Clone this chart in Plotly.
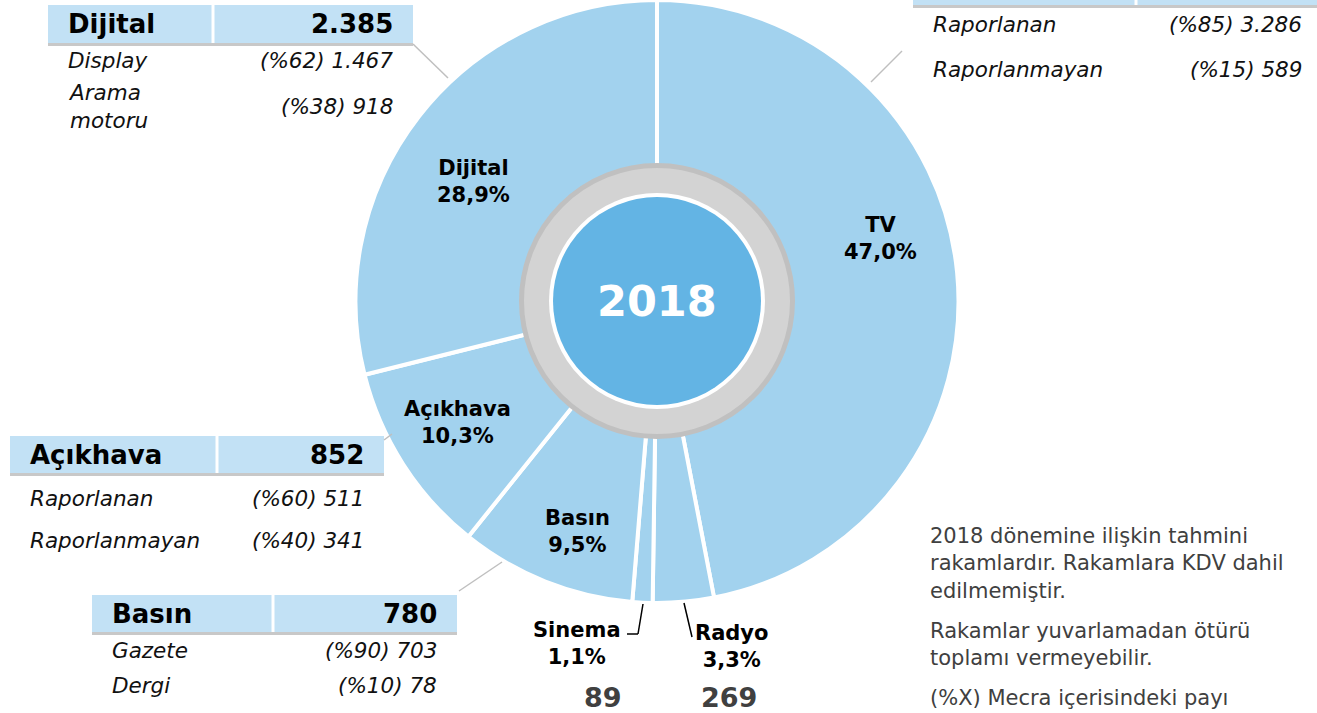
import plotly.graph_objects as go

# ---------------- data ----------------
categories = ["TV", "Radyo", "Sinema", "Basın", "Açıkhava", "Dijital"]
values = [3875, 269, 89, 780, 852, 2385]
year_label = "2018"

tv_title, tv_total = "Televizyon", 3875
tv_sub_names = ["Raporlanan", "Raporlanmayan"]
tv_sub_pct = [85, 15]
tv_sub_vals = [3286, 589]

dij_title, dij_total = "Dijital", 2385
dij_sub_names = ["Display", "Arama<br>motoru"]
dij_sub_pct = [62, 38]
dij_sub_vals = [1467, 918]

acik_title, acik_total = "Açıkhava", 852
acik_sub_names = ["Raporlanan", "Raporlanmayan"]
acik_sub_pct = [60, 40]
acik_sub_vals = [511, 341]

basin_title, basin_total = "Basın", 780
basin_sub_names = ["Gazete", "Dergi"]
basin_sub_pct = [90, 10]
basin_sub_vals = [703, 78]

notes = [
    "2018 dönemine ilişkin tahmini<br>rakamlardır. Rakamlara KDV dahil<br>edilmemiştir.",
    "Rakamlar yuvarlamadan ötürü<br>toplamı vermeyebilir.",
    "(%X) Mecra içerisindeki payı",
]

# ---------------- helpers ----------------
W, H = 1317, 713
FONT = "DejaVu Sans"
SLICE = "#a2d2ee"
HEAD = "#c2e1f5"
CENTER_BLUE = "#63b4e4"
ROW_SIZE = 21.5
HEAD_SIZE = 26


def X(px):
    return px / W


def Y(py):
    return 1 - py / H


def fmt(v):
    return format(v, ",").replace(",", ".")


total = sum(values)
pcts = [f"{v / total * 100:.1f}".replace(".", ",") + "%" for v in values]

cx, cy, R = 657, 301, 302

fig = go.Figure()
fig.add_trace(go.Pie(
    labels=categories, values=values, sort=False, direction="clockwise",
    rotation=0, hole=0.4, textinfo="none", hoverinfo="label+percent",
    marker=dict(colors=[SLICE] * len(values), line=dict(color="white", width=4)),
    domain=dict(x=[X(cx - R), X(cx + R)], y=[max(0, Y(cy + R)), min(1, Y(cy - R))]),
    showlegend=False,
))

shapes = []
annotations = []


def circle(r, fill, line_color=None, line_width=0):
    shapes.append(dict(type="circle", xref="paper", yref="paper", layer="above",
                       x0=X(cx - r), x1=X(cx + r), y0=Y(cy + r), y1=Y(cy - r),
                       fillcolor=fill,
                       line=dict(color=line_color or fill, width=line_width)))


circle(135.5, "#d3d3d3", "#c0c0c0", 5)
circle(108, "white")
circle(104, CENTER_BLUE)

annotations.append(dict(x=X(cx), y=Y(cy), xref="paper", yref="paper", text=f"<b>{year_label}</b>",
                        showarrow=False, font=dict(family=FONT, size=43, color="white"),
                        xanchor="center", yanchor="middle"))


def line(x0, y0, x1, y1, color="#bfbfbf", width=1.5):
    shapes.append(dict(type="line", xref="paper", yref="paper", layer="above",
                       x0=X(x0), y0=Y(y0), x1=X(x1), y1=Y(y1),
                       line=dict(color=color, width=width)))


def text(px, py, s, size=ROW_SIZE, anchor="left", color="#111111", bold=False, italic=False):
    if bold:
        s = f"<b>{s}</b>"
    if italic:
        s = f"<i>{s}</i>"
    annotations.append(dict(x=X(px), y=Y(py), xref="paper", yref="paper", text=s,
                            showarrow=False, xanchor=anchor, yanchor="middle",
                            align=anchor if anchor != "center" else "center",
                            font=dict(family=FONT, size=size, color=color)))


def table(x0, xdiv, x1, ytop, ybot, title, tot, names, pct, vals, row_y,
          lpad=18, rpad=18, show_head=True):
    shapes.append(dict(type="rect", xref="paper", yref="paper", layer="above",
                       x0=X(x0), x1=X(x1), y0=Y(ybot), y1=Y(ytop),
                       fillcolor=HEAD, line=dict(width=0)))
    line(xdiv, ytop, xdiv, ybot, color="white", width=3)
    line(x0, ybot + 1.5, x1, ybot + 1.5, color="#c8c8c8", width=3)
    ym = (ytop + ybot) / 2
    if show_head:
        text(x0 + lpad, ym, title, size=HEAD_SIZE, bold=True, color="black")
        text(x1 - rpad, ym, fmt(tot), size=HEAD_SIZE, bold=True, color="black", anchor="right")
    for n, p, v, ry in zip(names, pct, vals, row_y):
        text(x0 + lpad, ry, n, italic=True)
        text(x1 - rpad, ry, f"(%{p}) {fmt(v)}", italic=True, anchor="right")


# TV table: header row lies above the visible area in the reference
table(913, 1136, 1322, -38, 5, tv_title, tv_total, tv_sub_names, tv_sub_pct, tv_sub_vals,
      [24, 70], lpad=18, rpad=18, show_head=False)
line(902, 51, 871, 82)

table(48, 213, 413, 5, 43, dij_title, dij_total, dij_sub_names, dij_sub_pct, dij_sub_vals, [60, 107])
line(413, 44, 448, 78)

table(10, 217, 384, 436, 473, acik_title, acik_total, acik_sub_names, acik_sub_pct, acik_sub_vals, [498, 540])
line(384, 440, 392, 434)

table(92, 273, 457, 595, 632, basin_title, basin_total, basin_sub_names, basin_sub_pct, basin_sub_vals, [650, 685])
line(459, 591, 502, 562)

# inside slice labels
inside_pos = {"TV": (880, 239), "Dijital": (474, 181), "Açıkhava": (457, 423), "Basın": (577, 531)}
for c, p in zip(categories, pcts):
    if c in inside_pos:
        px, py = inside_pos[c]
        text(px, py, f"{c}<br>{p}", size=21, bold=True, color="black", anchor="center")

# outside labels for small slices
outside_pos = {"Sinema": (577, 643), "Radyo": (732, 646)}
value_pos = {"Sinema": (603, 697), "Radyo": (729, 697)}
for c, p, v in zip(categories, pcts, values):
    if c in outside_pos:
        px, py = outside_pos[c]
        text(px, py, f"{c}<br>{p}", size=21, bold=True, color="black", anchor="center")
        vx, vy = value_pos[c]
        text(vx, vy, fmt(v), size=27, bold=True, color="#404040", anchor="center")

line(643, 604, 638, 634, color="black", width=1.5)
line(638, 634, 627, 634, color="black", width=1.5)
line(684, 603, 692, 637, color="black", width=1.5)

# notes
note_y = [563, 644, 698]
for s, ny in zip(notes, note_y):
    text(928, ny, s, size=21, color="#404040")

fig.update_layout(
    width=W, height=H, margin=dict(l=0, r=0, t=0, b=0),
    paper_bgcolor="white", plot_bgcolor="white",
    shapes=shapes, annotations=annotations,
    font=dict(family=FONT),
)

fig.write_html("out.html", config={"displayModeBar": False},
               post_script="document.body.style.margin='0';")
